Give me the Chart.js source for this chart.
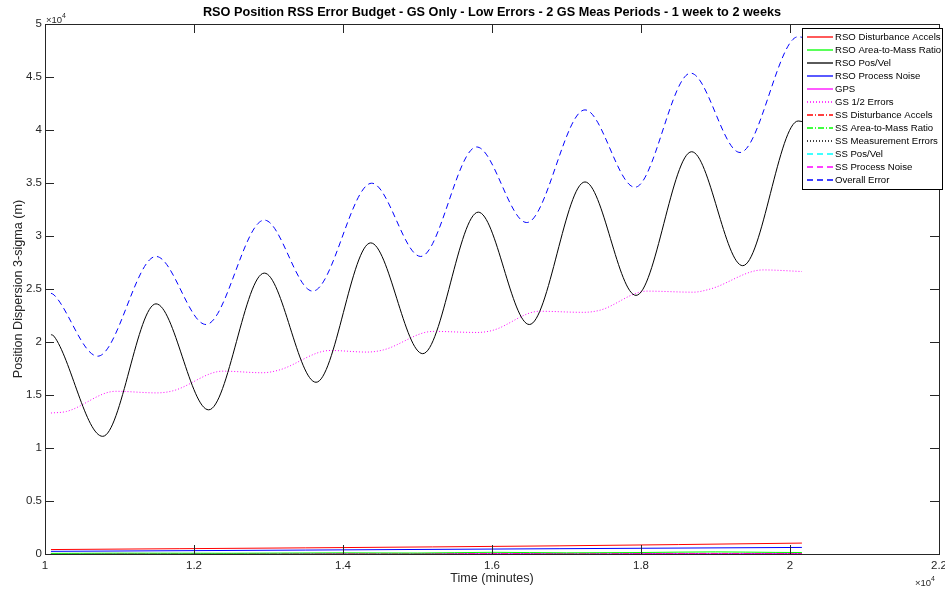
<!DOCTYPE html>
<html>
<head>
<meta charset="utf-8">
<script src="https://cdn.jsdelivr.net/npm/chart.js@4.4.0/dist/chart.umd.min.js"></script>
<style>
  body { margin: 0; background: #fff; }
  #wrap { width: 945px; height: 589px; }
</style>
</head>
<body>
<div id="wrap"><canvas id="rssChart" width="945" height="589"></canvas></div>
<script>
// Datos (tiempo en minutos, dispersion en metros)
const xTicks = [10000, 12000, 14000, 16000, 18000, 20000, 22000];
const yTicks = [0, 5000, 10000, 15000, 20000, 25000, 30000, 35000, 40000, 45000, 50000];

const rsoPosVelT = [10080, 10120, 10774, 11490, 12197, 12944, 13638, 14372, 15070, 15816, 16501, 17248, 17933, 18680, 19365, 20110, 20160];
const rsoPosVelV = [20700, 20550, 11100, 23600, 13600, 26500, 16200, 29350, 18900, 32250, 21650, 35100, 24400, 37950, 27200, 40850, 40800];

const overallT = [10080, 10120, 10707, 11490, 12161, 12944, 13593, 14385, 15043, 15794, 16466, 17248, 17919, 18667, 19329, 20110, 20160];
const overallV = [24600, 24450, 18660, 28070, 21650, 31500, 24800, 34980, 28070, 38400, 31270, 41900, 34600, 45360, 37880, 48800, 48750];

const gsHalfT = [10080, 10290, 10950, 11500, 11720, 12390, 12920, 13140, 13830, 14320, 14540, 15210, 15800, 16010, 16640, 17220, 17450, 18080, 18700, 18930, 19640, 20160];
const gsHalfV = [13300, 13450, 15350, 15200, 15400, 17250, 17100, 17350, 19200, 19050, 19250, 21000, 20900, 21100, 22900, 22800, 23000, 24800, 24700, 25000, 26800, 26650];

const rsoDistT = [10080, 11800, 13500, 15200, 16900, 18500, 20160];
const rsoDistV = [420, 500, 580, 670, 770, 890, 1030];

const rsoAmrT = [10080, 11000, 12500, 14000, 15000, 16000, 17000, 18000, 19000, 19800, 20160];
const rsoAmrV = [60, 80, 70, 110, 90, 160, 110, 140, 200, 150, 140];

const rsoProcT = [10080, 13500, 16900, 20160];
const rsoProcV = [250, 370, 500, 620];

const gpsT = [10080, 20160];
const gpsV = [15, 25];

const ssDistT = [10080, 20160];
const ssDistV = [20, 40];

const ssAmrT = [10080, 20160];
const ssAmrV = [30, 60];

const ssMeasT = [10080, 20160];
const ssMeasV = [10, 15];

const ssPosVelT = [10080, 20160];
const ssPosVelV = [5, 10];

const ssProcT = [10080, 20160];
const ssProcV = [10, 20];

const TITLE = 'RSO Position RSS Error Budget - GS Only - Low Errors - 2 GS Meas Periods - 1 week to 2 weeks';
const AXIS_COLOR = '#262626';
const FONT = '"Liberation Sans", Arial, Helvetica, sans-serif';

function pts(t, v) {
    return t.map((x, i) => ({ x: x, y: v[i] }));
}

function serie(label, t, v, color, dash) {
    return {
        label: label,
        data: pts(t, v),
        borderColor: color,
        backgroundColor: color,
        borderWidth: 1,
        borderDash: dash,
        pointRadius: 0,
        fill: false,
        cubicInterpolationMode: 'monotone'
    };
}

const DASH = [6, 4];
const DOT = [1, 2];
const DASHDOT = [6, 2, 1, 2];

// Caja estilo MATLAB con marcas hacia dentro, titulo y multiplicadores
const boxPlugin = {
    id: 'matlabBox',
    afterDatasetsDraw(chart) {
        const { ctx, chartArea: a, scales } = chart;
        const x = scales.x, y = scales.y;
        ctx.save();
        ctx.strokeStyle = AXIS_COLOR;
        ctx.lineWidth = 1;
        ctx.beginPath();
        x.ticks.forEach(t => {
            const px = Math.round(x.getPixelForValue(t.value)) + 0.5;
            ctx.moveTo(px, a.bottom); ctx.lineTo(px, a.bottom - 9);
            ctx.moveTo(px, a.top); ctx.lineTo(px, a.top + 9);
        });
        y.ticks.forEach(t => {
            const py = Math.round(y.getPixelForValue(t.value)) + 0.5;
            ctx.moveTo(a.left, py); ctx.lineTo(a.left + 9, py);
            ctx.moveTo(a.right, py); ctx.lineTo(a.right - 9, py);
        });
        ctx.stroke();
        ctx.strokeRect(Math.round(a.left) + 0.5, Math.round(a.top) + 0.5,
            Math.round(a.right - a.left), Math.round(a.bottom - a.top));

        // Titulo centrado sobre el area del grafico
        ctx.fillStyle = '#000';
        ctx.textAlign = 'center';
        ctx.textBaseline = 'middle';
        ctx.font = 'bold 12.7px ' + FONT;
        ctx.fillText(TITLE, (a.left + a.right) / 2, 12);

        // multiplicadores x10^4
        ctx.fillStyle = AXIS_COLOR;
        ctx.textAlign = 'left';
        ctx.font = '9.5px ' + FONT;
        ctx.fillText('\u00d710', a.left + 1, a.top - 4);
        ctx.fillText('\u00d710', a.right - 24, a.bottom + 29);
        ctx.font = '7px ' + FONT;
        ctx.fillText('4', a.left + 17, a.top - 8);
        ctx.fillText('4', a.right - 8, a.bottom + 25);
        ctx.restore();
    }
};

// Leyenda dentro del area, esquina superior derecha
const legendPlugin = {
    id: 'boxLegend',
    afterDraw(chart) {
        const { ctx, chartArea: a } = chart;
        const sets = chart.data.datasets;
        const left = Math.round(a.right) - 137, top = Math.round(a.top) + 4;
        const w = 140, rowH = 12.97;
        const h = Math.round(sets.length * rowH + 5);
        ctx.save();
        ctx.fillStyle = '#fff';
        ctx.fillRect(left, top, w, h);
        ctx.strokeStyle = '#000';
        ctx.lineWidth = 1;
        ctx.strokeRect(left + 0.5, top + 0.5, w, h);
        ctx.font = '9.6px ' + FONT;
        ctx.textBaseline = 'middle';
        ctx.textAlign = 'left';
        sets.forEach((ds, i) => {
            const yy = Math.round(top + 9 + i * rowH);
            ctx.strokeStyle = ds.borderColor;
            ctx.lineWidth = 1.3;
            ctx.setLineDash(ds.borderDash || []);
            ctx.beginPath();
            ctx.moveTo(left + 5, yy);
            ctx.lineTo(left + 31, yy);
            ctx.stroke();
            ctx.setLineDash([]);
            ctx.fillStyle = '#000';
            ctx.fillText(ds.label, left + 33, yy);
        });
        ctx.restore();
    }
};

function initChart() {
    const ctx = document.getElementById('rssChart').getContext('2d');
    new Chart(ctx, {
        type: 'line',
        data: {
            datasets: [
                serie('RSO Disturbance Accels', rsoDistT, rsoDistV, '#ff0000', []),
                serie('RSO Area-to-Mass Ratio', rsoAmrT, rsoAmrV, '#00ff00', []),
                serie('RSO Pos/Vel', rsoPosVelT, rsoPosVelV, '#000000', []),
                serie('RSO Process Noise', rsoProcT, rsoProcV, '#0000ff', []),
                serie('GPS', gpsT, gpsV, '#ff00ff', []),
                serie('GS 1/2 Errors', gsHalfT, gsHalfV, '#ff00ff', DOT),
                serie('SS Disturbance Accels', ssDistT, ssDistV, '#ff0000', DASHDOT),
                serie('SS Area-to-Mass Ratio', ssAmrT, ssAmrV, '#00ff00', DASHDOT),
                serie('SS Measurement Errors', ssMeasT, ssMeasV, '#000000', DOT),
                serie('SS Pos/Vel', ssPosVelT, ssPosVelV, '#00ffff', DASH),
                serie('SS Process Noise', ssProcT, ssProcV, '#ff00ff', DASH),
                serie('Overall Error', overallT, overallV, '#0000ff', DASH)
            ]
        },
        options: {
            responsive: false,
            animation: false,
            devicePixelRatio: 1,
            layout: { padding: { left: 0, right: 6, top: 24, bottom: 0 } },
            plugins: {
                legend: { display: false },
                tooltip: { enabled: false },
                title: { display: false }
            },
            scales: {
                x: {
                    type: 'linear',
                    min: 10000,
                    max: 22000,
                    afterBuildTicks: s => { s.ticks = xTicks.map(v => ({ value: v })); },
                    afterFit: s => { s.height = 35; s.paddingLeft = 0; s.paddingRight = 0; },
                    grid: { display: false, drawTicks: false, tickLength: 0 },
                    border: { display: false },
                    ticks: {
                        autoSkip: false,
                        maxRotation: 0,
                        padding: 5,
                        color: AXIS_COLOR,
                        font: { family: FONT, size: 11.5 },
                        callback: v => String(v / 10000)
                    },
                    title: {
                        display: true,
                        text: 'Time (minutes)',
                        color: AXIS_COLOR,
                        font: { family: FONT, size: 12.6 },
                        padding: { top: 0, bottom: 3.4 }
                    }
                },
                y: {
                    min: 0,
                    max: 50000,
                    afterBuildTicks: s => { s.ticks = yTicks.map(v => ({ value: v })); },
                    afterFit: s => { s.width = 45; s.paddingTop = 0; s.paddingBottom = 0; },
                    grid: { display: false, drawTicks: false, tickLength: 0 },
                    border: { display: false },
                    ticks: {
                        autoSkip: false,
                        padding: 3,
                        color: AXIS_COLOR,
                        font: { family: FONT, size: 11.5 },
                        callback: v => String(v / 10000)
                    },
                    title: {
                        display: true,
                        text: 'Position Dispersion 3-sigma (m)',
                        color: AXIS_COLOR,
                        font: { family: FONT, size: 12.6 },
                        padding: { top: 10.5, bottom: 0 }
                    }
                }
            }
        },
        plugins: [boxPlugin, legendPlugin]
    });
}

document.addEventListener('DOMContentLoaded', initChart);
</script>
</body>
</html>
